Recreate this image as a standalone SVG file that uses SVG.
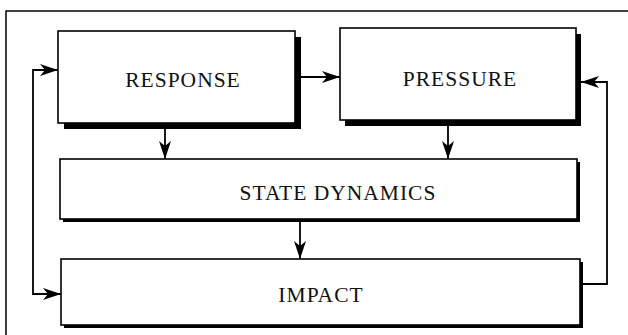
<svg xmlns="http://www.w3.org/2000/svg" width="628" height="335" viewBox="0 0 628 335">
  <style>
    .box { fill: #ffffff; stroke: #000000; stroke-width: 1.6; }
    .shadow { fill: #000000; }
    .label { font-family: "Liberation Serif", "Times New Roman", serif; font-size: 21.5px; letter-spacing: 1px; fill: #111111; text-anchor: middle; }
    .wire { fill: none; stroke: #000000; stroke-width: 1.8; }
    .frame { fill: none; stroke: #000000; stroke-width: 1.5; }
  </style>
  <defs>
    <marker id="head" markerUnits="userSpaceOnUse" viewBox="0 0 18 12" refX="18" refY="6" markerWidth="18" markerHeight="12" orient="auto">
      <path d="M0,0 L18,6 L0,12 L5,6 z" fill="#000000"/>
    </marker>
  </defs>

  <rect width="628" height="335" fill="#ffffff"/>

  <!-- outer frame (top and left edges) -->
  <path class="frame" d="M6,335 V11 H628"/>

  <g id="connectors">
    <!-- response to pressure -->
    <path class="wire" d="M301,77 H340" marker-end="url(#head)"/>
    <!-- response down to state dynamics -->
    <path class="wire" d="M165,129 V159" marker-end="url(#head)"/>
    <!-- pressure down to state dynamics -->
    <path class="wire" d="M448,126 V159" marker-end="url(#head)"/>
    <!-- state dynamics down to impact -->
    <path class="wire" d="M300,222 V259" marker-end="url(#head)"/>
    <!-- left loop: feeds response and impact -->
    <path class="wire" d="M58,70 H33 V294 H61" marker-end="url(#head)"/>
    <path class="wire" d="M40,70 H58" marker-end="url(#head)"/>
    <!-- right loop: impact back to pressure -->
    <path class="wire" d="M583,284 H607 V82 H581" marker-end="url(#head)"/>
  </g>

  <g id="response">
    <rect class="shadow" x="64" y="37" width="237" height="92"/>
    <rect class="box" x="58" y="31" width="237" height="92"/>
    <text class="label" x="183" y="87">RESPONSE</text>
  </g>

  <g id="pressure">
    <rect class="shadow" x="345" y="34" width="236" height="92"/>
    <rect class="box" x="340" y="28" width="236" height="92"/>
    <text class="label" x="460" y="86">PRESSURE</text>
  </g>

  <g id="state-dynamics">
    <rect class="shadow" x="63" y="162" width="517" height="60"/>
    <rect class="box" x="60" y="159" width="517" height="60"/>
    <text class="label" x="338" y="200">STATE DYNAMICS</text>
  </g>

  <g id="impact">
    <rect class="shadow" x="64" y="262" width="519" height="66"/>
    <rect class="box" x="61" y="259" width="519" height="66"/>
    <text class="label" x="321" y="302">IMPACT</text>
  </g>
</svg>
